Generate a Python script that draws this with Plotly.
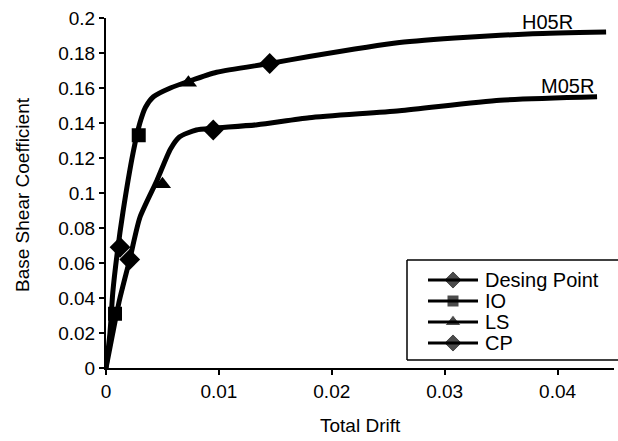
import plotly.graph_objects as go

# H05R pushover curve
h_drift = [0, 0.00035, 0.0006, 0.001, 0.0015, 0.0024, 0.003, 0.0035, 0.0042, 0.0057,
           0.0074, 0.0098, 0.0145, 0.018, 0.026, 0.032, 0.0378, 0.0443]
h_coef = [0, 0.02, 0.043, 0.066, 0.089, 0.123, 0.14, 0.149, 0.155, 0.16,
          0.164, 0.169, 0.174, 0.178, 0.186, 0.189, 0.191, 0.192]

# M05R pushover curve
m_drift = [0, 0.0006, 0.0012, 0.0021, 0.003, 0.0045, 0.0057, 0.0065, 0.008, 0.0095,
           0.0134, 0.018, 0.026, 0.0349, 0.0435]
m_coef = [0, 0.02, 0.039, 0.062, 0.086, 0.107, 0.125, 0.132, 0.136, 0.137,
          0.139, 0.143, 0.147, 0.153, 0.155]

# performance points: [H05R, M05R]
design_drift = [0.00124, 0.0021]
design_coef = [0.069, 0.062]
io_drift = [0.0029, 0.0008]
io_coef = [0.133, 0.031]
ls_drift = [0.0073, 0.005]
ls_coef = [0.163, 0.105]
cp_drift = [0.0145, 0.0095]
cp_coef = [0.174, 0.136]

labels = ["H05R", "M05R"]
label_drift = [0.0391, 0.0409]
label_coef = [0.198, 0.161]

legend_names = ["Desing Point", "IO", "LS", "CP"]
legend_symbols = ["diamond", "square", "triangle-up", "diamond"]

FONT = "Liberation Sans, Arial, sans-serif"
L, R, T, B = 106, 4, 18, 73
W, H = 618, 441


def px(x):  # pixel column -> paper x
    return (x - L) / (W - L - R)


def py(y):  # pixel row -> paper y
    return (H - B - y) / (H - B - T)


fig = go.Figure()
for xs, ys in [(h_drift, h_coef), (m_drift, m_coef)]:
    fig.add_trace(go.Scatter(x=xs, y=ys, mode="lines",
                             line=dict(color="black", width=5, shape="spline", smoothing=0.6),
                             showlegend=False, hoverinfo="skip"))

point_sets = [
    (design_drift, design_coef, "diamond", 16),
    (io_drift, io_coef, "square", 14),
    (ls_drift, ls_coef, "triangle-up", 15),
    (cp_drift, cp_coef, "diamond", 16),
]
for (xs, ys, sym, size), name in zip(point_sets, legend_names):
    fig.add_trace(go.Scatter(x=xs, y=ys, mode="markers", name=name, showlegend=False,
                             marker=dict(symbol=sym, size=size, color="black")))

# --- compact legend box (its right side runs off the picture) ---
box_left, box_top, box_bottom = 407, 260, 360
row_y = [box_top + 20 + 21 * i for i in range(len(legend_names))]
sample_x0, sample_x1, text_x = 428, 478, 483
edge = W + 20

fig.add_shape(type="rect", xref="paper", yref="paper", x0=px(box_left), x1=px(edge),
              y0=py(box_top), y1=py(box_bottom), line=dict(width=0),
              fillcolor="white", layer="below")
for (x0, y0, x1, y1) in [(box_left, box_top, edge, box_top),
                         (box_left, box_bottom, edge, box_bottom),
                         (box_left, box_top, box_left, box_bottom)]:
    fig.add_shape(type="line", xref="paper", yref="paper", x0=px(x0), x1=px(x1),
                  y0=py(y0), y1=py(y1), line=dict(color="black", width=1.5))
for yy in row_y:
    fig.add_shape(type="line", xref="paper", yref="paper", x0=px(sample_x0), x1=px(sample_x1),
                  y0=py(yy), y1=py(yy), line=dict(color="black", width=3))
fig.add_trace(go.Scatter(x=[px((sample_x0 + sample_x1) / 2)] * len(row_y),
                         y=[py(v) for v in row_y],
                         xaxis="x2", yaxis="y2", mode="markers", showlegend=False,
                         hoverinfo="skip",
                         marker=dict(symbol=legend_symbols, size=[14, 12, 14, 14], color="black")))
for name, yy in zip(legend_names, row_y):
    fig.add_annotation(x=px(text_x), y=py(yy), xref="paper", yref="paper", text=name,
                       showarrow=False, xanchor="left", yanchor="middle",
                       font=dict(size=20, color="black", family=FONT))

for t, x, y in zip(labels, label_drift, label_coef):
    fig.add_annotation(x=x, y=y, text=t, showarrow=False, xref="x", yref="y",
                       font=dict(size=20, color="black", family=FONT))

fig.add_annotation(text="Base Shear Coefficient", textangle=-90, xref="paper", yref="paper",
                   x=px(22), y=py(195), showarrow=False, xanchor="center", yanchor="middle",
                   font=dict(size=19, color="black", family=FONT))
fig.add_annotation(text="Total Drift", xref="paper", yref="paper",
                   x=px(360), y=py(425), showarrow=False, xanchor="center", yanchor="middle",
                   font=dict(size=19, color="black", family=FONT))

fig.update_layout(
    width=W, height=H,
    margin=dict(l=L, r=R, t=T, b=B),
    paper_bgcolor="white", plot_bgcolor="white",
    font=dict(family=FONT, size=19, color="black"),
    showlegend=False,
    xaxis=dict(range=[0, 0.045], tickvals=[0, 0.01, 0.02, 0.03, 0.04],
               ticktext=["0", "0.01", "0.02", "0.03", "0.04"], automargin=False,
               showgrid=False, zeroline=False, showline=True, linecolor="black", linewidth=2,
               ticks="outside", ticklen=5, tickwidth=2, tickcolor="black",
               tickfont=dict(size=19)),
    yaxis=dict(range=[0, 0.2], tickvals=[0, 0.02, 0.04, 0.06, 0.08, 0.1, 0.12, 0.14, 0.16, 0.18, 0.2],
               ticktext=["0", "0.02", "0.04", "0.06", "0.08", "0.1", "0.12", "0.14", "0.16", "0.18", "0.2"],
               automargin=False,
               showgrid=False, zeroline=False, showline=True, linecolor="black", linewidth=2,
               ticks="outside", ticklen=5, tickwidth=2, tickcolor="black",
               tickfont=dict(size=19)),
    xaxis2=dict(overlaying="x", range=[0, 1], visible=False, fixedrange=True),
    yaxis2=dict(overlaying="y", range=[0, 1], visible=False, fixedrange=True),
)

fig.write_html("out.html", config={"displayModeBar": False},
               post_script="document.body.style.margin='0px';")
